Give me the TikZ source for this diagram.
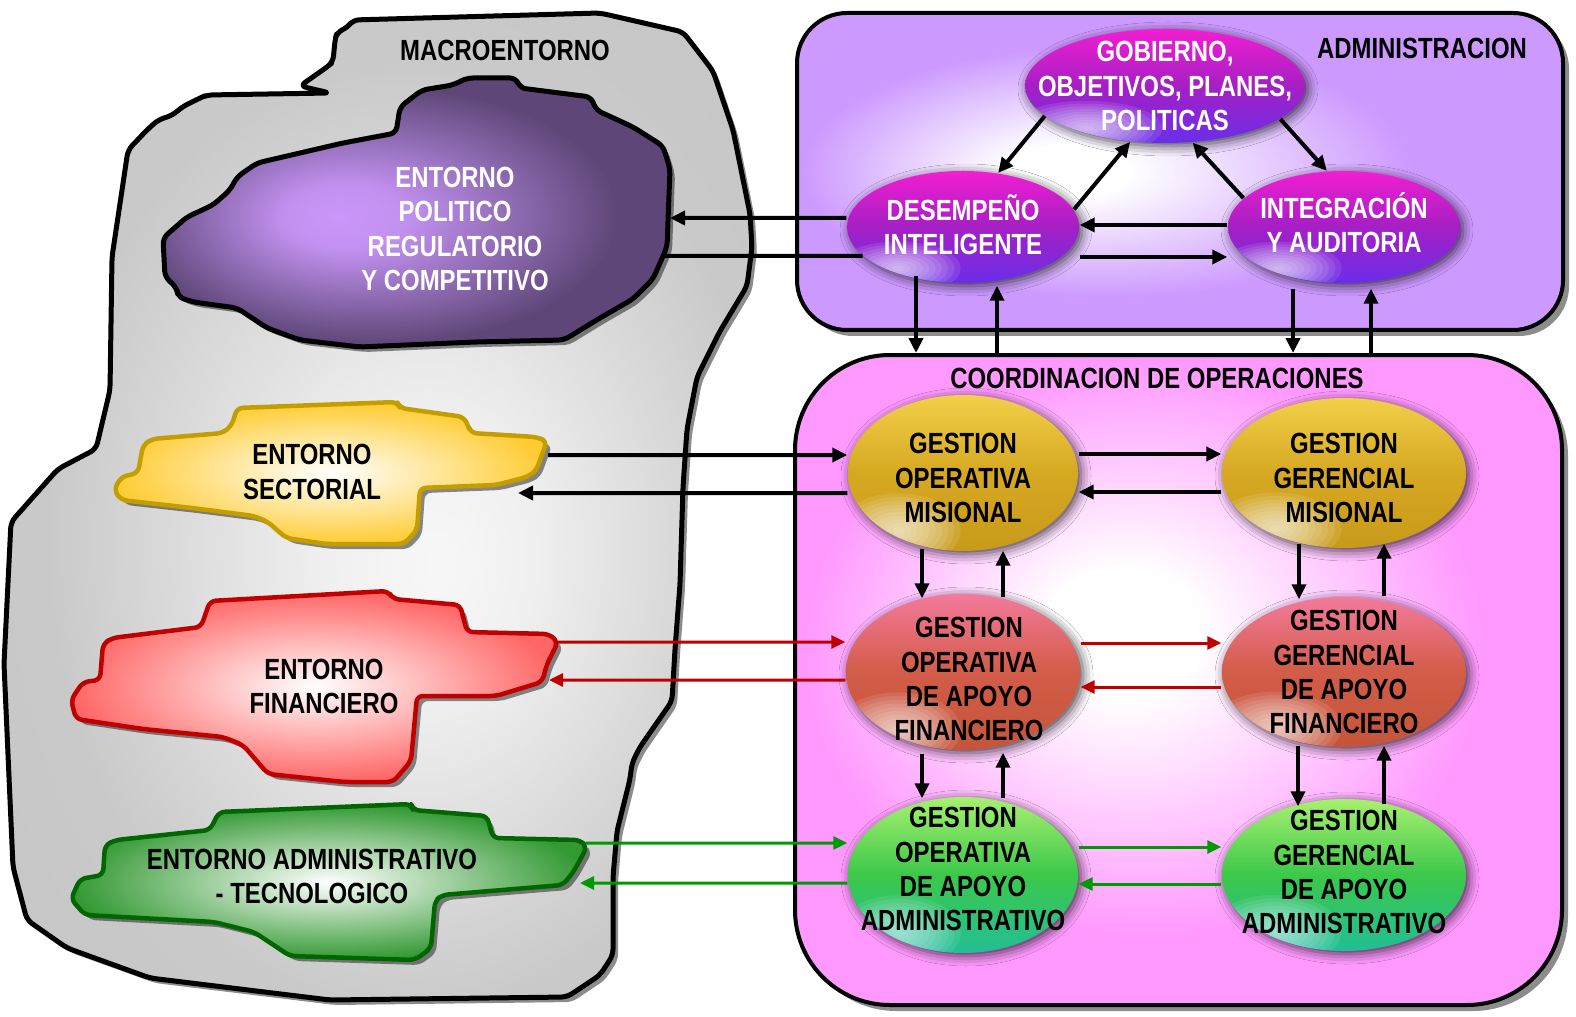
\documentclass[tikz,border=0pt]{standalone}
\usepackage{fontspec}
\setmainfont{Liberation Sans}[FakeStretch=0.82]
\usetikzlibrary{arrows.meta,shapes.geometric,shadows,shadows.blur,calc}

\definecolor{admfill}{HTML}{CC99FF}
\definecolor{coofill}{HTML}{FF99FF}
\definecolor{macgray}{HTML}{C0C0C0}
\definecolor{polin}{HTML}{CA97FA}
\definecolor{polout}{HTML}{5E4778}
\definecolor{secfill}{HTML}{FFCC33}
\definecolor{secline}{HTML}{C49E00}
\definecolor{finfill}{HTML}{FF6666}
\definecolor{finline}{HTML}{C00000}
\definecolor{tecfill}{HTML}{339933}
\definecolor{tecline}{HTML}{006600}
\definecolor{arrred}{HTML}{C00000}
\definecolor{arrgreen}{HTML}{009900}
\definecolor{magtop}{HTML}{F21ED2}
\definecolor{magmid}{HTML}{A51FC4}
\definecolor{magbot}{HTML}{6A2EEA}
\definecolor{goldtop}{HTML}{F2D048}
\definecolor{goldmid}{HTML}{D6A822}
\definecolor{goldbot}{HTML}{C89A1A}
\definecolor{redtop}{HTML}{F37A9B}
\definecolor{redmid}{HTML}{D25C48}
\definecolor{redbot}{HTML}{C5553A}
\definecolor{grntop}{HTML}{A8F070}
\definecolor{grnmid}{HTML}{3CC84A}
\definecolor{grnbot}{HTML}{22BE96}

\pgfdeclareradialshading{admglow}{\pgfpoint{-8bp}{0bp}}{color(0bp)=(white); color(4bp)=(white); color(20bp)=(admfill); color(50bp)=(admfill)}
\pgfdeclareradialshading{cooglow}{\pgfpoint{-4bp}{4bp}}{color(0bp)=(white); color(5bp)=(white); color(22bp)=(coofill); color(50bp)=(coofill)}
\pgfdeclareradialshading{macglow}{\pgfpoint{4bp}{-3bp}}{color(0bp)=(white!97!black); color(7bp)=(white!94!black); color(24bp)=(white!79!black); color(50bp)=(macgray)}
\pgfdeclareradialshading{polglow}{\pgfpoint{-8bp}{-1bp}}{color(0bp)=(polin); color(6bp)=(polin!92!polout); color(24bp)=(polout); color(50bp)=(polout)}

\begin{document}
\begin{tikzpicture}[x=0.1mm,y=-0.1mm,
    lbl/.style={font=\bfseries\fontsize{8.3}{9.7}\selectfont,align=center,inner sep=0pt},
    wlbl/.style={lbl,text=white},
    outline/.style={line width=0.45mm,rounded corners=0.6mm,line join=round,
      drop shadow={shadow xshift=0.5mm,shadow yshift=-0.5mm,fill=black,opacity=0.45}},
    panel/.style={draw,line width=0.4mm,inner sep=0pt,
      drop shadow={shadow xshift=0.6mm,shadow yshift=-0.6mm,fill=black,opacity=0.45}},
    ebase/.style={ellipse,inner sep=0pt,
      blur shadow={shadow xshift=0.3mm,shadow yshift=-0.3mm,shadow blur radius=1mm,shadow opacity=70}},
    spot/.style={path picture={
      \coordinate (sw) at (path picture bounding box.south west);
      \coordinate (ne) at (path picture bounding box.north east);
      \foreach \k in {1,...,10}
        \fill[#1,opacity=0.1] let \p1=(sw),\p2=(ne) in
          ({\x1+0.22*(\x2-\x1)},{\y1+0.13*(\y2-\y1)})
          ellipse ({\k*0.027*(\x2-\x1)} and {\k*0.024*(\y2-\y1)});}},
    magball/.style={ebase,top color=magtop,bottom color=magbot,middle color=magmid,spot=white},
    goldball/.style={ebase,top color=goldtop,bottom color=goldbot,middle color=goldmid,spot=white},
    redball/.style={ebase,top color=redtop,bottom color=redbot,middle color=redmid,spot=white},
    grnball/.style={ebase,top color=grntop,bottom color=grnbot,middle color=grnmid,spot={white!85!cyan}},
    arr/.style={line width=0.4mm,-{Triangle[length=1.5mm,width=1.4mm]}},
    uarr/.style={line width=0.4mm,{Triangle[length=1.5mm,width=1.4mm]}-},
    rarr/.style={arrred,line width=0.3mm,-{Triangle[length=1.4mm,width=1.3mm]}},
    garr/.style={arrgreen,line width=0.3mm,-{Triangle[length=1.4mm,width=1.3mm]}}]
  \useasboundingbox (0,0) rectangle (1576,1016);

  % macroentorno
  \draw[outline,line width=0.5mm,shading=macglow] (353,20) -- (600,13) -- (683,32) -- (713,71)
    -- (733,130) -- (750,214) -- (752,247) -- (747,286) -- (720,331) -- (697,377) -- (687,429)
    -- (683,487) -- (680,584) -- (675,649) -- (672,701) -- (640,747) -- (632,763) -- (630,779)
    -- (617,831) -- (613,877) -- (613,955) -- (600,975) -- (567,997) -- (330,1000) -- (150,978)
    -- (67,948) -- (27,920) -- (13,867) -- (4,664) -- (11,522) -- (58,469) -- (96,449)
    -- (110,390) -- (112,257) -- (118,217) -- (128,150) -- (147,130) -- (158,120) -- (173,115)
    -- (182,107) -- (200,98) -- (207,95) -- (330,93) -- (300,86) -- (327,67) -- (333,62)
    -- (335,40) -- (337,32) -- (347,28) -- cycle;
  \node[lbl] (macro) at (505,50) {MACROENTORNO};

  % entornos
  \draw[outline,line width=0.5mm,shading=polglow] (467,78) -- (516,78) -- (520,88) -- (591,97)
    -- (596,110) -- (633,127) -- (663,146) -- (670,169) -- (667,247) -- (653,279) -- (633,299)
    -- (600,318) -- (564,340) -- (476,342) -- (360,347) -- (300,340) -- (267,328) -- (237,308)
    -- (193,302) -- (178,297) -- (177,288) -- (165,277) -- (163,238) -- (187,217) -- (213,205)
    -- (230,190) -- (237,177) -- (257,163) -- (343,143) -- (396,133) -- (400,107) -- (422,90)
    -- (453,85) -- cycle;
  \node[wlbl] (polt) at (455,229) {ENTORNO\\POLITICO\\REGULATORIO\\Y COMPETITIVO};

  \draw[outline,secline,inner color=white,outer color=secfill] (237,408) -- (397,402) -- (400,408)
    -- (464,417) -- (471,433) -- (536,437) -- (547,441) -- (536,471) -- (527,477) -- (496,485)
    -- (420,488) -- (417,530) -- (404,544) -- (326,544) -- (286,538) -- (268,522) -- (254,516)
    -- (192,508) -- (121,500) -- (114,490) -- (121,477) -- (138,473) -- (143,445) -- (152,439)
    -- (223,433) -- (232,425) -- cycle;
  \node[lbl] (sect) at (312,472) {ENTORNO\\SECTORIAL};

  \draw[outline,finline,inner color=white,outer color=finfill] (210,601) -- (388,591) -- (393,599)
    -- (460,605) -- (467,632) -- (549,634) -- (558,642) -- (547,664) -- (542,682) -- (496,696)
    -- (417,696) -- (411,761) -- (393,782) -- (344,782) -- (268,774) -- (243,745) -- (223,737)
    -- (143,729) -- (76,719) -- (71,700) -- (83,682) -- (100,680) -- (103,644) -- (112,638)
    -- (201,627) -- cycle;
  \node[lbl] (fint) at (324,686) {ENTORNO\\FINANCIERO};

  \draw[outline,tecline,inner color=white,outer color=tecfill] (219,812) -- (411,804) -- (413,810)
    -- (487,816) -- (493,838) -- (580,840) -- (587,847) -- (574,871) -- (563,885) -- (442,895)
    -- (435,901) -- (431,948) -- (415,960) -- (290,956) -- (254,932) -- (214,922) -- (85,915)
    -- (71,899) -- (80,879) -- (103,875) -- (105,845) -- (116,840) -- (210,830) -- cycle;
  \node[lbl] (tect) at (312,876) {ENTORNO ADMINISTRATIVO\\- TECNOLOGICO};

  \coordinate (pp1) at (670,218);
  \coordinate (pp2) at (662,256);
  \coordinate (ys1) at (548,455);
  \coordinate (ys2) at (518,493);
  \coordinate (rf1) at (558,642);
  \coordinate (rf2) at (549,680);
  \coordinate (gt1) at (586,843);
  \coordinate (gt2) at (580,883);

  % administracion y coordinacion
  \node[panel,shading=admglow,minimum width=7.66cm,minimum height=3.17cm,rounded corners=5mm] (adm) at (1180,171.5) {};
  \node[panel,shading=cooglow,minimum width=7.67cm,minimum height=6.5cm,rounded corners=9.5mm] (coo) at (1178.5,680) {};
  \node[lbl] (admt) at (1422,48) {ADMINISTRACION};
  \node[lbl] (coot) at (1157,378) {COORDINACION DE OPERACIONES};

  \node[magball,minimum width=2.8cm,minimum height=1.14cm,
    label={[wlbl]center:{GOBIERNO,\\OBJETIVOS, PLANES,\\POLITICAS}}] (gob) at (1165,86) {};
  \node[magball,minimum width=2.32cm,minimum height=1.12cm,
    label={[wlbl,yshift=0.2mm]center:{DESEMPEÑO\\INTELIGENTE}}] (des) at (963,227) {};
  \node[magball,minimum width=2.32cm,minimum height=1.12cm,
    label={[wlbl,yshift=0.4mm]center:{INTEGRACIÓN\\Y AUDITORIA}}] (int) at (1344,227) {};

  \node[goldball,minimum width=2.3cm,minimum height=1.56cm,
    label={[lbl,yshift=-0.5mm]center:{GESTION\\OPERATIVA\\MISIONAL}}] (gom) at (963,473) {};
  \node[goldball,minimum width=2.44cm,minimum height=1.5cm,
    label={[lbl,yshift=-0.5mm]center:{GESTION\\GERENCIAL\\MISIONAL}}] (ggm) at (1344,473) {};
  \node[redball,minimum width=2.34cm,minimum height=1.56cm,
    label={[lbl,xshift=0.6mm,yshift=-0.7mm]center:{GESTION\\OPERATIVA\\DE APOYO\\FINANCIERO}}] (goaf) at (963,672) {};
  \node[redball,minimum width=2.44cm,minimum height=1.5cm,
    label={[lbl]center:{GESTION\\GERENCIAL\\DE APOYO\\FINANCIERO}}] (ggaf) at (1344,672) {};
  \node[grnball,minimum width=2.3cm,minimum height=1.56cm,
    label={[lbl,yshift=0.6mm]center:{GESTION\\OPERATIVA\\DE APOYO\\ADMINISTRATIVO}}] (goaa) at (963,875) {};
  \node[grnball,minimum width=2.44cm,minimum height=1.52cm,
    label={[lbl,yshift=0.3mm]center:{GESTION\\GERENCIAL\\DE APOYO\\ADMINISTRATIVO}}] (ggaa) at (1344,875) {};

  % flechas administracion
  \draw[arr] (gob.194) -- (des.57);
  \draw[arr] (des.9) -- (gob.238);
  \draw[arr] (int.164) -- (gob.296);
  \draw[arr] (gob.344) -- (int.107);
  \draw[arr] ([yshift=0.2mm]int.west) -- ([yshift=0.2mm]des.east);
  \draw[arr] ([yshift=-3mm]des.east) -- ([yshift=-3mm]int.west);
  \draw[arr] ([yshift=0.9mm]des.west) -- (pp1);
  \draw[line width=0.4mm] (pp2) -- (des.196);

  \draw[arr] ($(des.south)+(-47,-8)$) coordinate (d1) -- (d1 |- coo.north);
  \draw[uarr] ($(des.south)+(34,2)$) coordinate (d2) -- (d2 |- coo.north);
  \draw[arr] ($(int.south)+(-51,5)$) coordinate (i1) -- (i1 |- coo.north);
  \draw[uarr] ($(int.south)+(27,5)$) coordinate (i2) -- (i2 |- coo.north);

  % flechas entornos
  \draw[arr] (ys1) -- ([yshift=1.8mm]gom.west);
  \draw[arr] ([yshift=-2mm]gom.west) -- (ys2);
  \draw[rarr] (rf1) -- ([yshift=3mm]goaf.west);
  \draw[rarr] ([yshift=-0.8mm]goaf.west) -- (rf2);
  \draw[garr] (gt1) -- ([yshift=3.2mm]goaa.west);
  \draw[garr] ([yshift=-0.8mm]goaa.west) -- (gt2);

  % flechas coordinacion
  \foreach \a/\b/\s/\u/\d in {gom/ggm/arr/1.9/-1.9, goaf/ggaf/rarr/2.9/-1.5, goaa/ggaa/garr/2.8/-0.9}{
    \draw[\s] ([yshift=\u mm]\a.east) -- ([yshift=\u mm]\b.west);
    \draw[\s] ([yshift=\d mm]\b.west) -- ([yshift=\d mm]\a.east);
  }
  \draw[arr] ($(gom.south)+(-41,-3)$) -- ($(goaf.north)+(-41,5)$);
  \draw[arr] ($(goaf.north)+(40,4)$) -- ($(gom.south)+(40,-1)$);
  \draw[arr] ($(goaf.south)+(-41,3)$) -- ($(goaa.north)+(-41,2)$);
  \draw[arr] ($(goaa.north)+(40,2)$) -- ($(goaf.south)+(40,2)$);
  \draw[arr] ($(ggm.south)+(-45,-5)$) -- ($(ggaf.north)+(-45,3)$);
  \draw[arr] ($(ggaf.north)+(40,0)$) -- ($(ggm.south)+(40,-5)$);
  \draw[arr] ($(ggaf.south)+(-46,-2)$) -- ($(ggaa.north)+(-46,8)$);
  \draw[arr] ($(ggaa.north)+(40,6)$) -- ($(ggaf.south)+(40,-2)$);
\end{tikzpicture}
\end{document}
